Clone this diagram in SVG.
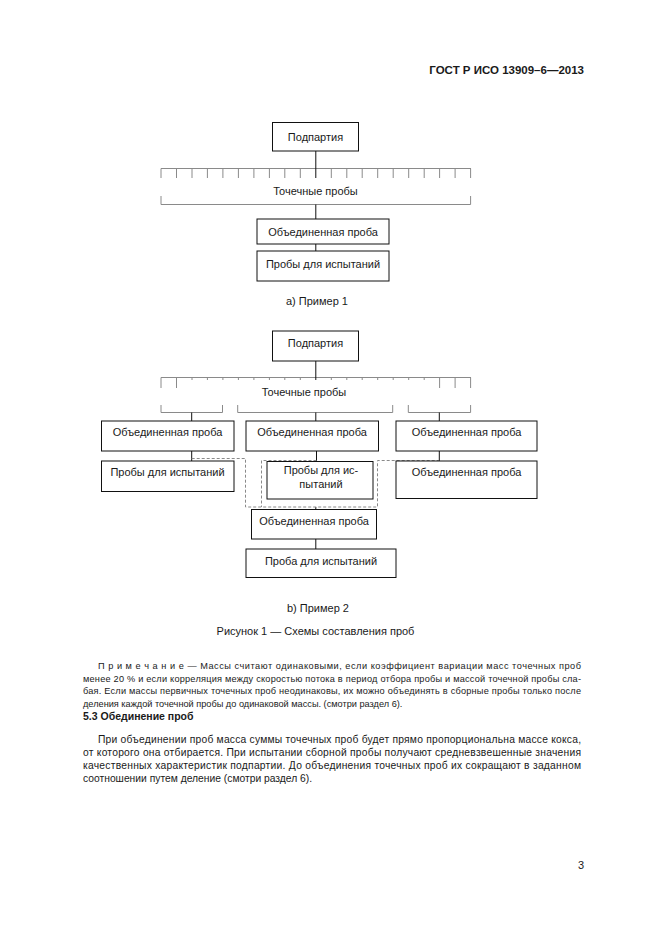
<svg xmlns="http://www.w3.org/2000/svg" width="661" height="936" viewBox="0 0 661 936">
<style>
text{font-family:"Liberation Sans",Arial,sans-serif;fill:#1a1a1a}
.lbl{font-size:11px;text-anchor:middle}
.box{fill:#fff;stroke:#111;stroke-width:1}
.ln{stroke:#111;stroke-width:1;fill:none}
.tk{stroke:#8a8a8a;stroke-width:1;fill:none}
.ds{stroke:#8a8a8a;stroke-width:1;fill:none;stroke-dasharray:3,2}
.note{font-size:9.2px}
.par{font-size:10.3px}
</style>
<rect width="661" height="936" fill="#fff"/>
<text x="584" y="74" style="font-size:11.5px;font-weight:bold;text-anchor:end">ГОСТ Р ИСО 13909–6—2013</text>

<g id="connectors">
<!-- top diagram -->
<path class="tk" d="M161,168.5H471 M161,168.5V178 M176.5,168.5V178 M192,168.5V178 M207.4,168.5V178 M222.9,168.5V178 M238.4,168.5V178 M253.9,168.5V178 M269.4,168.5V178 M284.8,168.5V178 M300.3,168.5V178 M331.3,168.5V178 M346.8,168.5V178 M362.2,168.5V178 M377.7,168.5V178 M393.2,168.5V178 M408.7,168.5V178 M424.2,168.5V178 M439.6,168.5V178 M455.1,168.5V178 M470.6,168.5V178"/>
<path class="tk" d="M161,196V204.5H470.6V196"/>
<path class="ln" d="M315.8,151V178 M315.8,204.5V219 M315.8,244V251"/>
<!-- bottom diagram -->
<path class="tk" d="M161,377.5H471 M161,377.5V388 M176.5,377.5V388 M192,377.5V380 M207.4,377.5V380 M222.9,377.5V380 M238.4,377.5V380 M253.9,377.5V380 M269.4,377.5V380 M284.8,377.5V380 M300.3,377.5V380 M331.3,377.5V380 M346.8,377.5V380 M362.2,377.5V380 M377.7,377.5V380 M393.2,377.5V380 M408.7,377.5V380 M424.2,377.5V380 M439.6,377.5V388 M455.1,377.5V388 M470.6,377.5V388"/>
<path class="tk" d="M161,405V412.5H222.5V405 M237.7,405V412.5H392.7V405 M408.3,405V412.5H470.6V405"/>
<path class="ln" d="M315.8,361V380 M191.7,412.5V421 M315.8,412.5V421 M439.3,412.5V421 M191.7,451V461 M316.5,451V461 M439.3,451V461 M315.8,507V509.5 M315.8,539V549"/>
<path class="ds" d="M191.7,458.5H245.5V507H377.5V460.5H439.3 M316.5,460.5H261.5V507"/>
</g>

<g id="n1"><rect class="box" x="272.5" y="122.5" width="86" height="28.5"/><text class="lbl" x="315.5" y="140.5">Подпартия</text></g>
<text class="lbl" x="315.5" y="195">Точечные пробы</text>
<g id="n2"><rect class="box" x="257" y="219" width="132" height="25"/><text class="lbl" x="323" y="235.5">Объединенная проба</text></g>
<g id="n3"><rect class="box" x="257" y="251" width="132" height="30"/><text class="lbl" x="323" y="268">Пробы для испытаний</text></g>
<text class="lbl" x="317" y="305">а) Пример 1</text>

<g id="n4"><rect class="box" x="272.5" y="331" width="86" height="30"/><text class="lbl" x="315.5" y="347">Подпартия</text></g>
<text class="lbl" x="304" y="396">Точечные пробы</text>
<g id="n5"><rect class="box" x="101.5" y="421" width="132.5" height="30"/><text class="lbl" x="167.5" y="436">Объединенная проба</text></g>
<g id="n6"><rect class="box" x="246" y="421" width="132.5" height="30"/><text class="lbl" x="312" y="436">Объединенная проба</text></g>
<g id="n7"><rect class="box" x="396" y="421" width="141" height="30"/><text class="lbl" x="466.5" y="436">Объединенная проба</text></g>
<g id="n8"><rect class="box" x="101.5" y="461" width="132.5" height="30.5"/><text class="lbl" x="167.5" y="476">Пробы для испытаний</text></g>
<g id="n9"><rect class="box" x="267" y="461.5" width="106" height="37.5"/><text class="lbl" x="321" y="474">Пробы для ис-</text><text class="lbl" x="321" y="488">пытаний</text></g>
<g id="n10"><rect class="box" x="396" y="461" width="141" height="37.5"/><text class="lbl" x="466.5" y="476">Объединенная проба</text></g>
<g id="n11"><rect class="box" x="251.5" y="509.5" width="125" height="29.5"/><text class="lbl" x="314" y="524.5">Объединенная проба</text></g>
<g id="n12"><rect class="box" x="246" y="549" width="150" height="28.5"/><text class="lbl" x="321" y="565">Проба для испытаний</text></g>

<text class="lbl" x="318" y="612">b) Пример 2</text>
<text class="lbl" x="315.5" y="635">Рисунок 1 — Схемы составления проб</text>

<text class="note" x="98" y="669" textLength="483" lengthAdjust="spacing">П р и м е ч а н и е  — Массы считают одинаковыми, если коэффициент вариации масс точечных проб</text>
<text class="note" x="83" y="681.5" textLength="498" lengthAdjust="spacing">менее 20 % и если корреляция между скоростью потока в период отбора пробы и массой точечной пробы сла-</text>
<text class="note" x="83" y="694" textLength="498" lengthAdjust="spacing">бая. Если массы первичных точечных проб неодинаковы, их можно объединять в сборные пробы только после</text>
<text class="note" x="83" y="706.5">деления каждой точечной пробы до одинаковой массы. (смотри раздел 6).</text>

<text x="83" y="719.5" style="font-size:10.5px;font-weight:bold">5.3 Обединение проб</text>

<text class="par" x="98" y="743" textLength="483" lengthAdjust="spacing">При объединении проб масса суммы точечных проб будет прямо пропорциональна массе кокса,</text>
<text class="par" x="83" y="756" textLength="498" lengthAdjust="spacing">от которого она отбирается. При испытании сборной пробы получают средневзвешенные  значения</text>
<text class="par" x="83" y="769" textLength="498" lengthAdjust="spacing">качественных  характеристик  подпартии. До объединения точечных проб их сокращают в заданном</text>
<text class="par" x="83" y="782">соотношении путем деление (смотри раздел 6).</text>

<text x="578" y="869" style="font-size:11px">3</text>
</svg>
